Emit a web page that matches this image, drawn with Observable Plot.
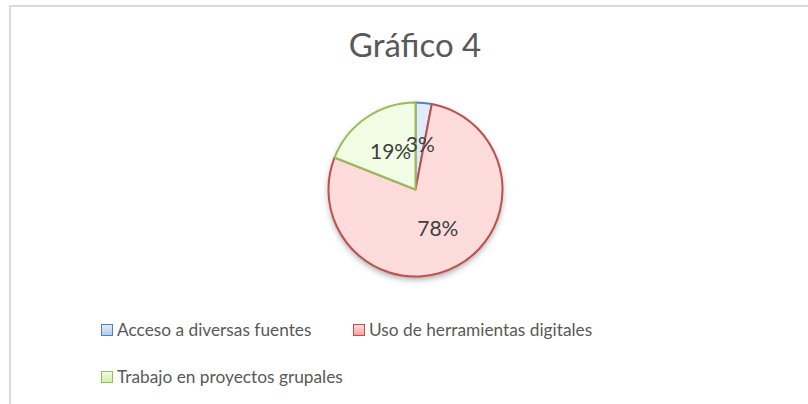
<!DOCTYPE html>
<html>
<head>
<meta charset="utf-8">
<script src="https://cdn.jsdelivr.net/npm/d3@7"></script>
<script src="https://cdn.jsdelivr.net/npm/@observablehq/plot@0.6"></script>
<style>
  html, body { margin: 0; padding: 0; background: #fff; }
  #wrap { position: relative; width: 808px; height: 404px; overflow: hidden; font-family: Lato, "Open Sans", sans-serif; color: #595959; }
  #bl { position: absolute; left: 9px; top: 5px; width: 2px; height: 400px; background: #d9d9d9; }
  #bt { position: absolute; left: 9px; top: 5px; width: 800px; height: 2px; background: #d9d9d9; }
  #title { position: absolute; left: 0; width: 830px; top: 24px; text-align: center; font-size: 33px; line-height: 40px; }
  #chart { position: absolute; left: 0; top: 0; }
  .leg { position: absolute; font-size: 17.3px; line-height: 22px; white-space: nowrap; display: flex; align-items: center; }
  .sw { width: 10px; height: 10px; border: 1px solid; margin-right: 4px; }
</style>
</head>
<body>
<div id="wrap">
  <div id="bl"></div><div id="bt"></div>
  <div id="chart"></div>
  <div id="title">Gráfico 4</div>
  <div id="legend"></div>
</div>
<script>
const categories = ["Acceso a diversas fuentes", "Uso de herramientas digitales", "Trabajo en proyectos grupales"];
const values = [3, 78, 19];
const labels = ["3%", "78%", "19%"];
const strokes = ["#4f81bd", "#c0504d", "#9bbb59"];
const fillTop = ["#e3ebf9", "#ffdcdc", "#f1fde4"];
const fillBottom = ["#b5caf0", "#ff9f9f", "#d0eeaa"];

const data = categories.map((c, i) => ({category: c, value: values[i], label: labels[i], i}));
const arcs = d3.pie().sort(null).value(d => d.value)(data);
const labelFrac = 0.52;
const labelData = arcs.map(a => {
  const m = (a.startAngle + a.endAngle) / 2;
  return {label: a.data.label, x: Math.sin(m) * labelFrac, y: Math.cos(m) * labelFrac};
});

function pieMark(index, scales) {
  const cx = scales.x(0), cy = scales.y(0);
  const r = scales.x(1) - scales.x(0);
  const g = d3.create("svg:g");
  const defs = g.append("defs");
  const f = defs.append("filter").attr("id", "shadow").attr("x", "-20%").attr("y", "-20%").attr("width", "140%").attr("height", "140%");
  f.append("feDropShadow").attr("dx", 0).attr("dy", 3).attr("stdDeviation", 3).attr("flood-color", "#000").attr("flood-opacity", 0.35);
  arcs.forEach((a, i) => {
    const lg = defs.append("linearGradient").attr("id", "grad" + i).attr("gradientUnits", "userSpaceOnUse")
      .attr("x1", cx).attr("x2", cx).attr("y1", cy - r).attr("y2", cy + r);
    lg.append("stop").attr("offset", "0%").attr("stop-color", fillTop[i]);
    lg.append("stop").attr("offset", "100%").attr("stop-color", fillBottom[i]);
  });
  const arc = d3.arc().innerRadius(0).outerRadius(r);
  g.append("circle").attr("cx", cx).attr("cy", cy).attr("r", r).attr("fill", "#fff").attr("filter", "url(#shadow)");
  g.selectAll("path.slice").data(arcs).join("path")
    .attr("class", "slice")
    .attr("transform", `translate(${cx},${cy})`)
    .attr("d", arc)
    .attr("fill", (d, i) => `url(#grad${i})`)
    .attr("stroke", (d, i) => strokes[i])
    .attr("stroke-width", 2)
    .attr("stroke-linejoin", "round");
  return g.node();
}

const cx = 415.5, cy = 189.5, R = 87;
const plot = Plot.plot({
  width: 808,
  height: 404,
  margin: 0,
  x: {domain: [-1, 1], range: [cx - R, cx + R], axis: null},
  y: {domain: [1, -1], range: [cy - R, cy + R], axis: null},
  style: {background: "transparent", overflow: "visible"},
  marks: [
    pieMark,
    Plot.text(labelData, {x: "x", y: "y", text: "label", fontSize: 21, fill: "#404040", fontFamily: "Lato, sans-serif"})
  ]
});
document.getElementById("chart").appendChild(plot);

const legendPos = [[101, 319], [353, 319], [101, 366]];
const legend = document.getElementById("legend");
categories.forEach((c, i) => {
  const d = document.createElement("div");
  d.className = "leg";
  d.style.left = legendPos[i][0] + "px";
  d.style.top = legendPos[i][1] + "px";
  const s = document.createElement("div");
  s.className = "sw";
  s.style.borderColor = strokes[i];
  s.style.background = `linear-gradient(${fillTop[i]}, ${fillBottom[i]})`;
  d.appendChild(s);
  d.appendChild(document.createTextNode(c));
  legend.appendChild(d);
});
</script>
</body>
</html>
